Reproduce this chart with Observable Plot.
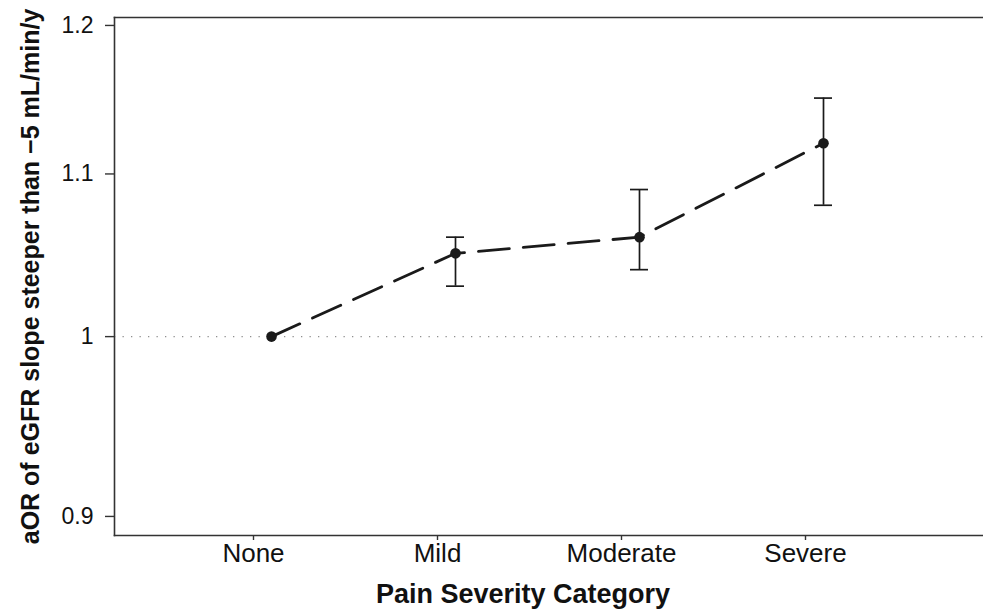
<!DOCTYPE html>
<html><head><meta charset="utf-8">
<script src="https://cdn.jsdelivr.net/npm/d3@7"></script>
<script src="https://cdn.jsdelivr.net/npm/@observablehq/plot@0.6"></script>
<style>body{margin:0;background:#fff}</style>
</head><body><div id="chart"></div>
<script>
const categories = ["None", "Mild", "Moderate", "Severe"];
const aor = [1.00, 1.05, 1.06, 1.12];
const lower = [null, 1.03, 1.04, 1.08];
const upper = [null, 1.06, 1.09, 1.15];
const yTicks = [0.9, 1, 1.1, 1.2];
const yTickLabels = ["0.9", "1", "1.1", "1.2"];
const xTitle = "Pain Severity Category";
const yTitle = "aOR of eGFR slope steeper than \u22125 mL/min/y";

const data = categories.map((c, i) => ({cat: c, aor: aor[i], lo: lower[i], hi: upper[i]}));
const bars = data.filter(d => d.lo != null);
const yTickData = yTicks.map((t, i) => ({value: t, label: yTickLabels[i]}));
const shift = 18;
const ink = "#1a1a1a";
const axisInk = "#333";

const chart = Plot.plot({
  width: 983, height: 609,
  marginTop: 17, marginBottom: 74, marginLeft: 114, marginRight: 0,
  style: {fontFamily: "'Liberation Sans', Arial, Helvetica, sans-serif", color: "#111", background: "#fff"},
  x: {type: "point", domain: categories, range: [252, 806], padding: 0},
  y: {type: "log", domain: [0.89, 1.2056]},
  marks: [
    Plot.ruleY([1], {stroke: "#8f8f8f", strokeWidth: 1.3, strokeDasharray: "1.3,7.2"}),
    Plot.frame({anchor: "top", stroke: axisInk, strokeWidth: 1.6}),
    Plot.frame({anchor: "left", stroke: axisInk, strokeWidth: 1.6}),
    Plot.frame({anchor: "bottom", stroke: axisInk, strokeWidth: 1.6}),
    Plot.axisY({ticks: yTicks, tickFormat: () => "", tickSize: 9, stroke: axisInk, strokeWidth: 1.4, label: null}),
    Plot.text(yTickData, {y: "value", text: "label", frameAnchor: "left", dx: -21, textAnchor: "end", lineAnchor: "middle", fontSize: 23, fill: "#111"}),
    Plot.axisX({tickSize: 5, tickPadding: 3, fontSize: 26, stroke: axisInk, strokeWidth: 1.4, label: null}),
    Plot.text([yTitle], {frameAnchor: "left", rotate: -90, dx: -84, fontSize: 25, fontWeight: "bold", fill: "#111", lineAnchor: "middle", textAnchor: "middle"}),
    Plot.text([xTitle], {frameAnchor: "bottom", dx: -26, dy: 59, fontSize: 27, fontWeight: "bold", fill: "#111", lineAnchor: "middle", textAnchor: "middle"}),
    Plot.line(data, {x: "cat", y: "aor", dx: shift, stroke: ink, strokeWidth: 2.8, strokeDasharray: "31,14"}),
    Plot.ruleX(bars, {x: "cat", y1: "lo", y2: "hi", dx: shift, stroke: ink, strokeWidth: 1.7}),
    Plot.ruleY(bars, {x1: "cat", x2: "cat", y: "hi", dx: shift, insetLeft: -9, insetRight: -9, stroke: ink, strokeWidth: 1.7}),
    Plot.ruleY(bars, {x1: "cat", x2: "cat", y: "lo", dx: shift, insetLeft: -9, insetRight: -9, stroke: ink, strokeWidth: 1.7}),
    Plot.dot(data, {x: "cat", y: "aor", dx: shift, r: 5.3, fill: ink, stroke: "none"})
  ]
});
document.getElementById("chart").appendChild(chart);
</script>
</body></html>
